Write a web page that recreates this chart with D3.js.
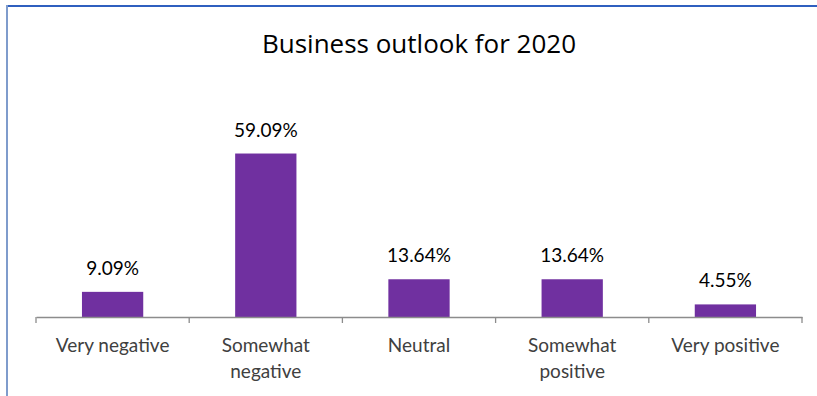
<!DOCTYPE html>
<html>
<head>
<meta charset="utf-8">
<script src="https://cdn.jsdelivr.net/npm/d3@7"></script>
<style>
  html, body { margin: 0; padding: 0; background: #fff; }
  svg { display: block; }
</style>
</head>
<body>
<svg id="chart" width="817" height="396"></svg>
<script>
// Survey answers and share of respondents (%)
const categories = ["Very negative", "Somewhat negative", "Neutral", "Somewhat positive", "Very positive"];
const shares = [9.09, 59.09, 13.64, 13.64, 4.55];
const title = "Business outlook for 2020";

const W = 817, H = 396;
const font = "Lato, 'Open Sans', sans-serif";
const titleFont = "'Open Sans', Lato, sans-serif";
const svg = d3.select("#chart");

// Frame edges (top and left)
svg.append("line").attr("x1", 6).attr("x2", W).attr("y1", 6).attr("y2", 6)
  .attr("stroke", "#2f5fbf").attr("stroke-width", 2);
svg.append("line").attr("x1", 7).attr("x2", 7).attr("y1", 5).attr("y2", H)
  .attr("stroke", "#7f9ccc").attr("stroke-width", 2);

const x = d3.scaleBand().domain(categories).range([36, 802]).padding(0);
const y = d3.scaleLinear().domain([0, 60]).range([317, 151]);
const barW = x.bandwidth() * 0.4;

svg.append("text")
  .attr("x", (x.range()[0] + x.range()[1]) / 2).attr("y", 53)
  .attr("text-anchor", "middle")
  .attr("font-family", titleFont).attr("font-size", 26).attr("fill", "#000")
  .text(title);

// Bars
svg.append("g").selectAll("rect").data(categories).join("rect")
  .attr("x", d => x(d) + (x.bandwidth() - barW) / 2)
  .attr("y", (d, i) => y(shares[i]))
  .attr("width", barW)
  .attr("height", (d, i) => y(0) - y(shares[i]))
  .attr("fill", "#7030a0");

// Value labels
svg.append("g").selectAll("text").data(categories).join("text")
  .attr("x", d => x(d) + x.bandwidth() / 2)
  .attr("y", (d, i) => y(shares[i]) - 17)
  .attr("text-anchor", "middle")
  .attr("font-family", font).attr("font-size", 19).attr("fill", "#000")
  .text((d, i) => shares[i].toFixed(2) + "%");

// Category axis with ticks between categories
const axis = svg.append("g").attr("transform", `translate(0,${y(0)})`)
  .call(d3.axisBottom(x).tickSize(0).tickPadding(0));
axis.select(".domain").attr("stroke", "#8c8c8c").attr("stroke-width", 1.3);
const edges = categories.map(c => x(c)).concat([x.range()[1]]);
axis.selectAll(".edge").data(edges).join("line").attr("class", "edge")
  .attr("x1", d => d).attr("x2", d => d).attr("y1", 0).attr("y2", 6)
  .attr("stroke", "#8c8c8c").attr("stroke-width", 1.3);

axis.selectAll(".tick text")
  .attr("font-family", font).attr("font-size", 19).attr("fill", "#404040")
  .attr("y", 0).attr("dy", null)
  .each(function (d) {
    const t = d3.select(this);
    const words = d.split(" ");
    t.text(null);
    // break into lines that fit inside one category band
    const lines = [];
    let cur = [];
    for (const w of words) {
      const trial = cur.concat([w]).join(" ");
      t.text(trial);
      if (this.getComputedTextLength() > x.bandwidth() - 20 && cur.length) {
        lines.push(cur.join(" "));
        cur = [w];
      } else cur.push(w);
    }
    lines.push(cur.join(" "));
    t.text(null);
    lines.forEach((ln, i) => {
      t.append("tspan").attr("x", 0).attr("y", 35 + i * 26).text(ln);
    });
  });
</script>
</body>
</html>
